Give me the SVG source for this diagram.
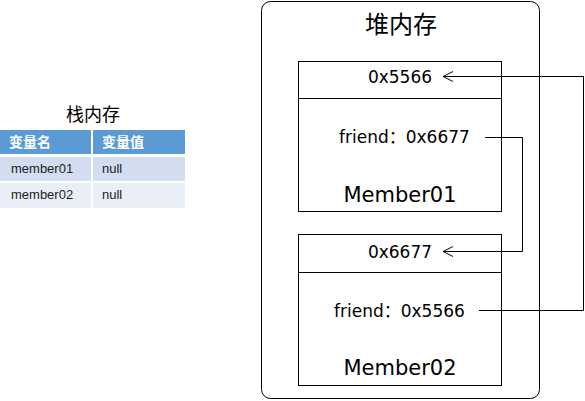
<svg xmlns="http://www.w3.org/2000/svg" width="585" height="401" viewBox="0 0 585 401">
<defs>
<marker id="open" viewBox="0 0 12 12" refX="11" refY="6" markerWidth="12" markerHeight="12" markerUnits="userSpaceOnUse" orient="auto">
<path d="M1,1 L11,6 L1,11" fill="none" stroke="#000" stroke-width="1"/>
</marker>
<style>
.t{font-family:"DejaVu Sans","Noto Sans CJK SC",sans-serif;fill:#000}
.c{font-family:"Noto Sans CJK SC",sans-serif;fill:#000}
.box{fill:#fff;stroke:#000;stroke-width:1}
.hd{font-family:"Noto Sans CJK SC",sans-serif;font-size:14px;font-weight:bold;fill:#fff}
.cell{font-family:"Liberation Sans",Arial,sans-serif;font-size:13px;fill:#222}
.conn{fill:none;stroke:#000;stroke-width:1}
</style>
</defs>
<rect width="585" height="401" fill="#fff"/>
<g id="stack">
<text class="c" x="93" y="121" font-size="18" text-anchor="middle">栈内存</text>
<rect x="0" y="130" width="91" height="24" fill="#5B9BD5"/>
<rect x="93" y="130" width="92" height="24" fill="#5B9BD5"/>
<rect x="0" y="157" width="91" height="24" fill="#D2DEEF"/>
<rect x="93" y="157" width="92" height="24" fill="#D2DEEF"/>
<rect x="0" y="183" width="91" height="25" fill="#EAEFF7"/>
<rect x="93" y="183" width="92" height="25" fill="#EAEFF7"/>
<text class="hd" x="9" y="147">变量名</text>
<text class="hd" x="102" y="147">变量值</text>
<text class="cell" x="11" y="173">member01</text>
<text class="cell" x="102" y="173">null</text>
<text class="cell" x="11" y="199">member02</text>
<text class="cell" x="102" y="199">null</text>
</g>
<g id="heap">
<rect class="box" x="261.5" y="1.5" width="278" height="397" rx="9"/>
<text class="c" x="401" y="33" font-size="24" text-anchor="middle">堆内存</text>
</g>
<g id="member01">
<rect class="box" x="298.5" y="61.5" width="203" height="150"/>
<line class="conn" x1="298.5" y1="98.5" x2="501.5" y2="98.5"/>
<text class="t" x="400" y="83" font-size="17" text-anchor="middle">0x5566</text>
<text class="t" x="339" y="143" font-size="17">friend：0x6677</text>
<text class="t" x="400" y="202" font-size="21" text-anchor="middle">Member01</text>
</g>
<g id="member02">
<rect class="box" x="298.5" y="234.5" width="203" height="151"/>
<line class="conn" x1="298.5" y1="272.5" x2="501.5" y2="272.5"/>
<text class="t" x="400" y="258" font-size="17" text-anchor="middle">0x6677</text>
<text class="t" x="334" y="317" font-size="17">friend：0x5566</text>
<text class="t" x="400" y="375" font-size="21" text-anchor="middle">Member02</text>
</g>
<g id="connectors">
<path class="conn" d="M485,137.5 H522.5 V251.5 H443" marker-end="url(#open)"/>
<path class="conn" d="M479,310.5 H583.5 V76.5 H443" marker-end="url(#open)"/>
</g>
</svg>
